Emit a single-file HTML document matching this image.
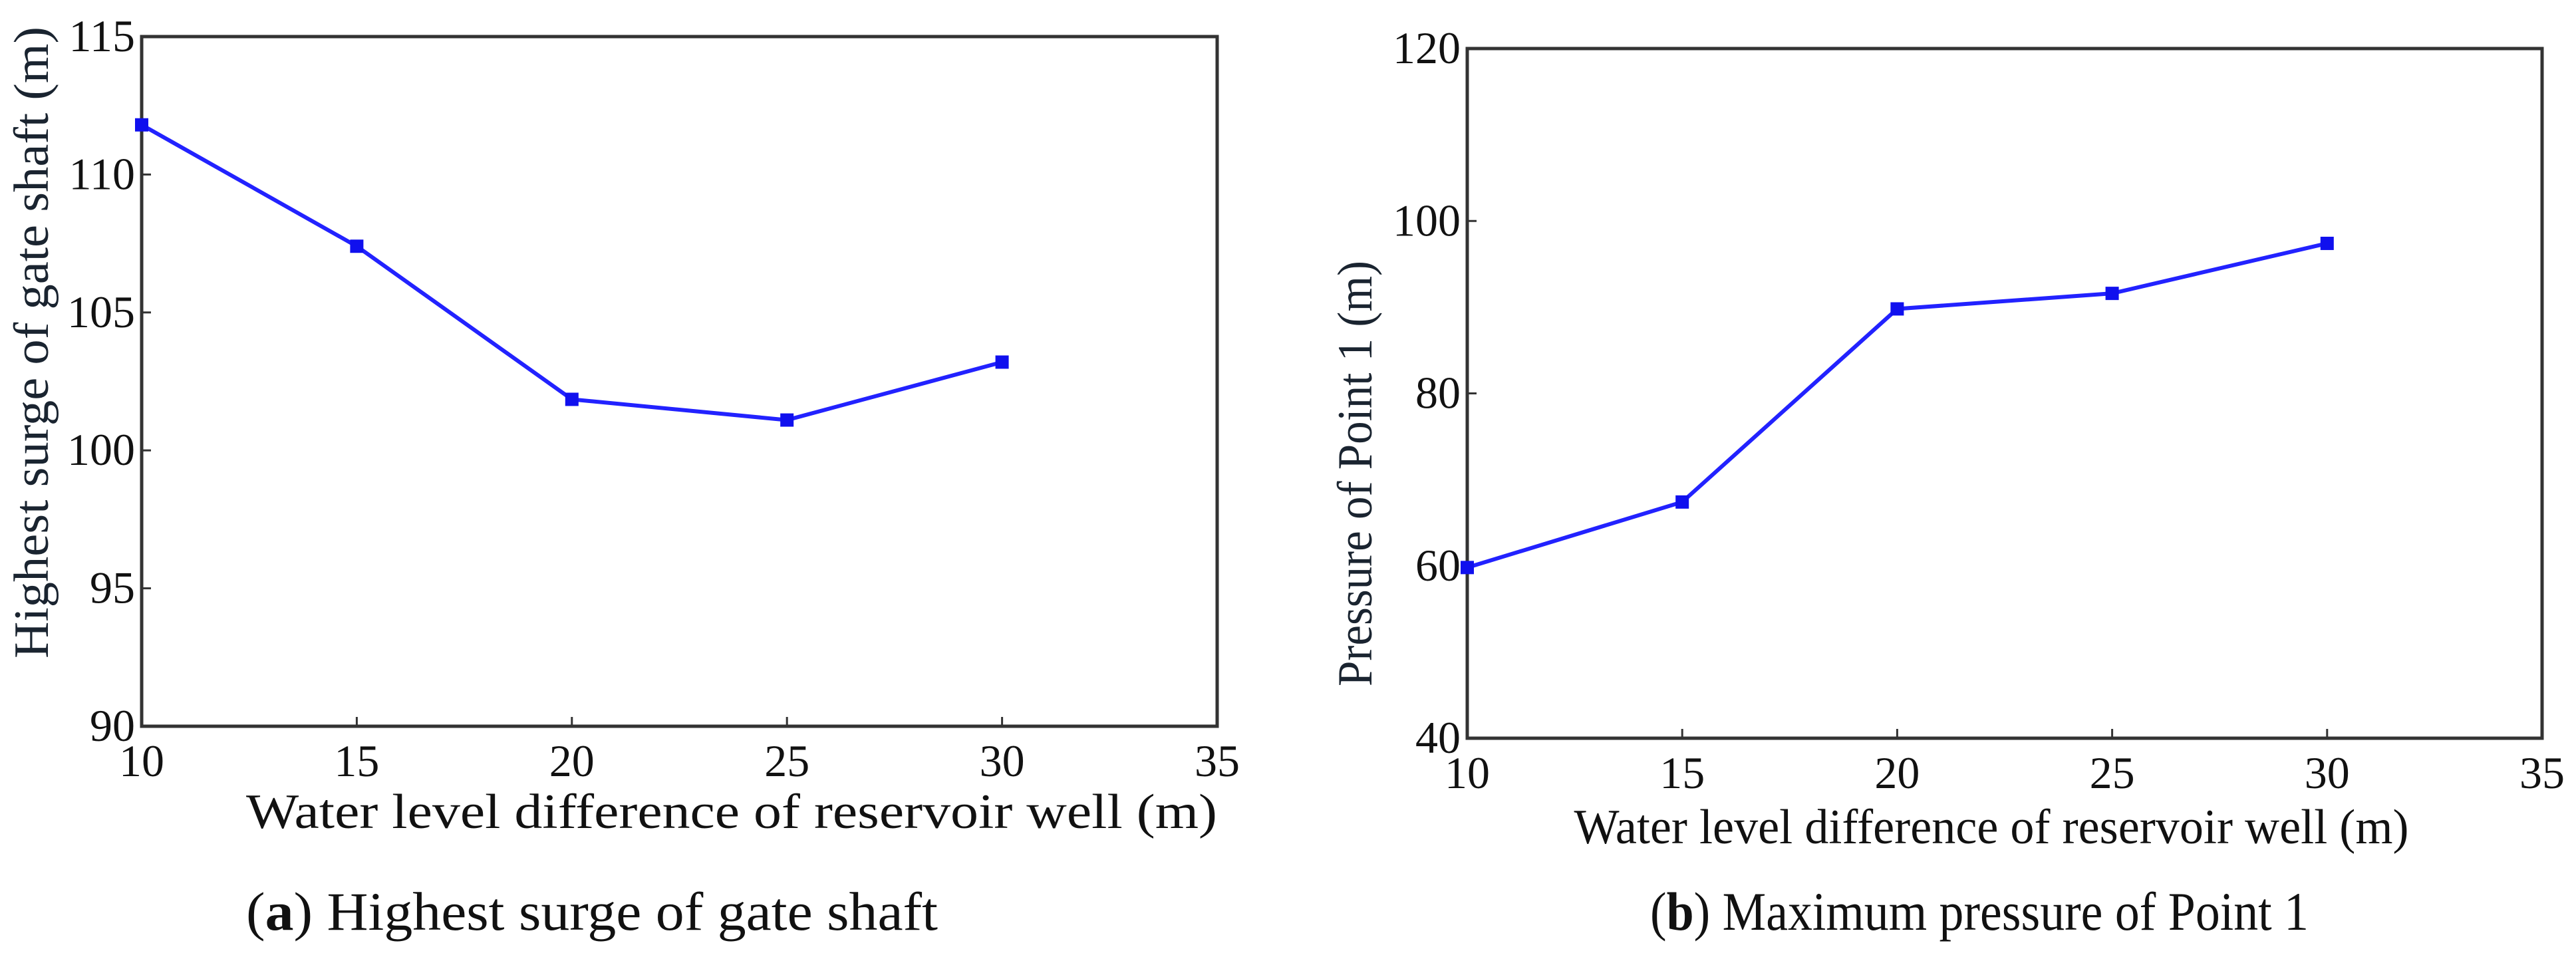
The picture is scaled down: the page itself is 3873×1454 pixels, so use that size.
<!DOCTYPE html>
<html><head><meta charset="utf-8"><style>
html,body{margin:0;padding:0;background:#fff;}
svg{display:block;font-family:"Liberation Serif",serif;}
</style></head><body>
<svg id="fig" width="3873" height="1454" viewBox="0 0 3873 1454"></svg>
<script>
const xCats = [10, 15, 20, 25, 30];
const xTicks = [10, 15, 20, 25, 30, 35];
const surgeVals = [111.8, 107.4, 101.85, 101.1, 103.2];
const surgeTicks = [90, 95, 100, 105, 110, 115];
const pressureVals = [59.8, 67.4, 89.8, 91.6, 97.4];
const pressureTicks = [40, 60, 80, 100, 120];

const NS = 'http://www.w3.org/2000/svg';
const svg = document.getElementById('fig');
function mk(tag, attrs, parent) {
  const e = document.createElementNS(NS, tag);
  for (const k in attrs) e.setAttribute(k, attrs[k]);
  (parent || svg).appendChild(e);
  return e;
}

function drawChart(cfg) {
  const g = mk('g', {});
  
  
  const L = cfg.left, R = cfg.right, T = cfg.top, B = cfg.bottom;
  const xMin = xTicks[0], xMax = xTicks[xTicks.length - 1];
  const yMin = cfg.yTicks[0], yMax = cfg.yTicks[cfg.yTicks.length - 1];
  const sx = v => L + (v - xMin) / (xMax - xMin) * (R - L);
  const sy = v => B - (v - yMin) / (yMax - yMin) * (B - T);

  const box = mk('rect', {x: L, y: T, width: R - L, height: B - T, fill: 'none', stroke: '#333', 'stroke-width': 5}, g);
  
  

  xTicks.forEach(v => {
    const t = mk('line', {x1: sx(v), x2: sx(v), y1: B, y2: B - 14, stroke: '#333', 'stroke-width': 3}, g);
    
    
    const tx = mk('text', {x: sx(v), y: B + 75, 'font-size': 68, 'text-anchor': 'middle', fill: '#111'}, g);
    tx.textContent = v;
    
    
  });
  cfg.yTicks.forEach(v => {
    const t = mk('line', {x1: L, x2: L + 14, y1: sy(v), y2: sy(v), stroke: '#333', 'stroke-width': 3}, g);
    
    
    const tx = mk('text', {x: L - 10, y: sy(v) + 22, 'font-size': 68, 'text-anchor': 'end', fill: '#111'}, g);
    tx.textContent = v;
    
    
  });

  const pts = xCats.map((c, i) => sx(c) + ',' + sy(cfg.vals[i])).join(' ');
  const line = mk('polyline', {points: pts, fill: 'none', stroke: '#2222ff', 'stroke-width': 6}, g);
  
  
  xCats.forEach((c, i) => {
    const m = mk('rect', {x: sx(c) - 10, y: sy(cfg.vals[i]) - 10, width: 20, height: 20, fill: '#1010ee'}, g);
    
    
  });

  const yt = mk('text', {x: 0, y: 0, 'font-size': 74, 'text-anchor': 'middle', fill: '#1a2430',
    transform: 'translate(' + cfg.yTitleX + ',' + cfg.yTitleY + ') rotate(-90)',
    textLength: cfg.yTitleLen, lengthAdjust: 'spacingAndGlyphs'}, g);
  yt.textContent = cfg.yTitle;
  
  

  const xt = mk('text', {x: cfg.xTitleX, y: cfg.xTitleY, 'font-size': 74, 'text-anchor': 'middle', fill: '#111',
    textLength: cfg.xTitleLen, lengthAdjust: 'spacingAndGlyphs'}, g);
  xt.textContent = 'Water level difference of reservoir well (m)';
  
  

  const cap = mk('text', {x: cfg.capX, y: 1398, 'font-size': 82, 'text-anchor': 'middle', fill: '#111',
    textLength: cfg.capLen, lengthAdjust: 'spacingAndGlyphs'}, g);
  
  
  const t1 = mk('tspan', {}, cap); t1.textContent = '(';
  const t2 = mk('tspan', {'font-weight': 'bold'}, cap); t2.textContent = cfg.letter;
  const t3 = mk('tspan', {}, cap); t3.textContent = ') ' + cfg.caption;
}

drawChart({name: 'chart-a-surge', left: 213, right: 1830, top: 55, bottom: 1092,
  yTicks: surgeTicks, vals: surgeVals,
  yTitle: 'Highest surge of gate shaft (m)', yTitleX: 72, yTitleY: 515, yTitleLen: 950,
  xTitleX: 1100, xTitleY: 1245, xTitleLen: 1460,
  capX: 890, capLen: 1040, letter: 'a', caption: 'Highest surge of gate shaft'});

drawChart({name: 'chart-b-pressure', left: 2206, right: 3822, top: 73, bottom: 1110,
  yTicks: pressureTicks, vals: pressureVals,
  yTitle: 'Pressure of Point 1 (m)', yTitleX: 2062, yTitleY: 712, yTitleLen: 640,
  xTitleX: 2994, xTitleY: 1268, xTitleLen: 1255,
  capX: 2976, capLen: 990, letter: 'b', caption: 'Maximum pressure of Point 1'});
</script>
</body></html>
